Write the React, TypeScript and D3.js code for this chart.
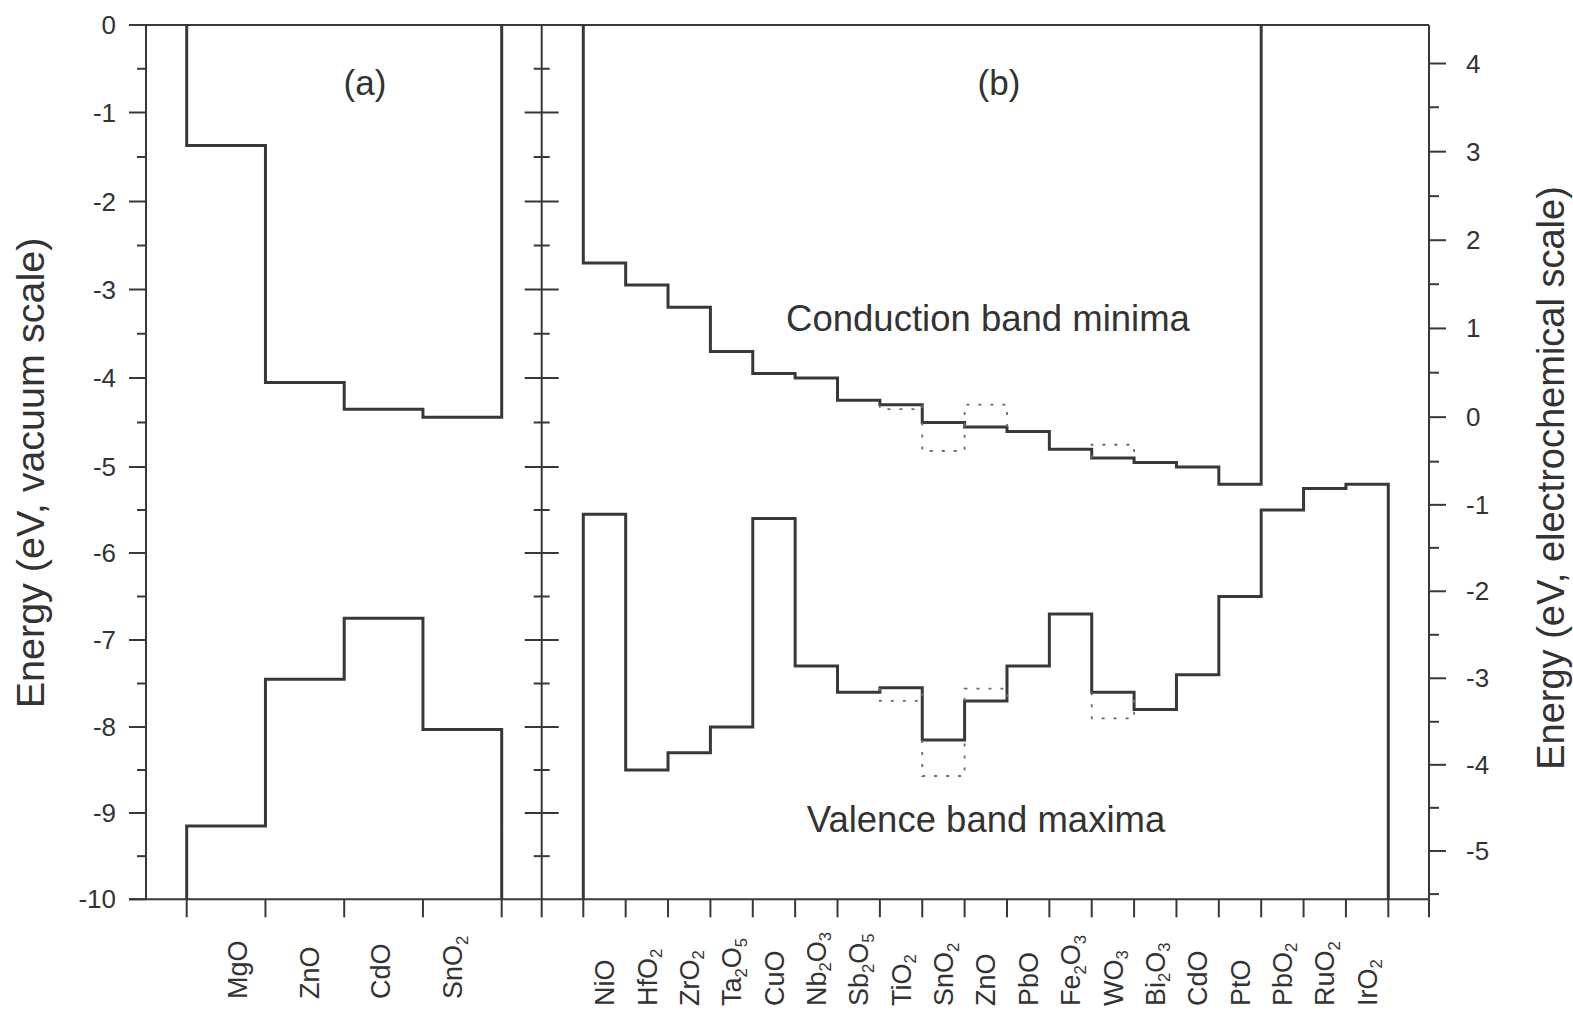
import React from 'react';
import * as d3 from 'd3';

// ---------- data (energies in eV on the vacuum scale) ----------
const panelACategories = ['MgO', 'ZnO', 'CdO', 'SnO2'];
const panelACB = [-1.37, -4.05, -4.35, -4.44];
const panelAVB = [-9.15, -7.45, -6.75, -8.03];

const panelBCategories = [
  'NiO', 'HfO2', 'ZrO2', 'Ta2O5', 'CuO', 'Nb2O3', 'Sb2O5', 'TiO2', 'SnO2', 'ZnO',
  'PbO', 'Fe2O3', 'WO3', 'Bi2O3', 'CdO', 'PtO', 'PbO2', 'RuO2', 'IrO2',
];
// conduction band minima exist only for the first 16 (semiconducting) oxides
const panelBCB = [-2.7, -2.95, -3.2, -3.7, -3.95, -4.0, -4.25, -4.3, -4.5, -4.55, -4.6, -4.8, -4.9, -4.95, -5.0, -5.2];
const panelBVB = [-5.55, -8.5, -8.3, -8.0, -5.6, -7.3, -7.6, -7.55, -8.15, -7.7, -7.3, -6.7, -7.6, -7.8, -7.4, -6.5, -5.5, -5.25, -5.2];
// alternative (dotted) values
const panelBAltCB: (number | null)[] = [null, null, null, null, null, null, null, -4.35, -4.82, -4.3, null, null, -4.75, null, null, null];
const panelBAltVB: (number | null)[] = [null, null, null, null, null, null, null, -7.7, -8.57, -7.56, null, null, -7.9, null, null, null, null, null, null];

const vacuumTicks = [0, -1, -2, -3, -4, -5, -6, -7, -8, -9, -10];
const vacuumMinorTicks = [-0.5, -1.5, -2.5, -3.5, -4.5, -5.5, -6.5, -7.5, -8.5, -9.5];
const echemTicks = [4, 3, 2, 1, 0, -1, -2, -3, -4, -5];
const echemMinorTicks = [3.5, 2.5, 1.5, 0.5, -0.5, -1.5, -2.5, -3.5, -4.5, -5.5];
const echemOffset = 4.44; // E_vac = E_echem - 4.44

// ---------- layout ----------
const W = 1573;
const H = 1013;
// pixel rows of the vacuum-scale ticks (the scanned original is slightly non-uniform)
const tickRows = [25, 112.5, 201.5, 289.5, 378, 467, 553, 640, 727, 813, 899.3];
const TOP = tickRows[0];
const BOTTOM = tickRows[tickRows.length - 1];
const LEFT = 146;
const DIVIDER = 541.7;
const RIGHT = 1429;
const STROKE = '#383838';
const TEXT = '#333';
const FONT = '"Liberation Sans", Arial, Helvetica, sans-serif';

const y = d3.scaleLinear().domain(vacuumTicks).range(tickRows);
const yEchem = d3
  .scaleLinear()
  .domain(vacuumTicks.map((v) => v + echemOffset))
  .range(tickRows);
const xA = d3.scaleLinear().domain([0, panelACategories.length]).range([186.7, 501.7]);
const xB = d3.scaleLinear().domain([0, panelBCategories.length]).range([583.3, 1388.3]);
// panel (a) labels sit slightly compressed toward the middle in the original
const xALabel = d3.scaleLinear().domain([0, panelACategories.length - 1]).range([237.5, 452.5]);

const stepLine = d3
  .line<[number, number]>()
  .x((d) => d[0])
  .y((d) => d[1])
  .curve(d3.curveStepAfter);
const plainLine = d3
  .line<[number, number]>()
  .x((d) => d[0])
  .y((d) => d[1]);

function bandPath(values: number[], xs: d3.ScaleLinear<number, number>, edge: number): string {
  const pts: [number, number][] = [];
  pts.push([xs(0), y(edge)]);
  values.forEach((v, i) => pts.push([xs(i), y(v)]));
  pts.push([xs(values.length), y(values[values.length - 1])]);
  pts.push([xs(values.length), y(edge)]);
  return stepLine(pts) || '';
}

function altPaths(alt: (number | null)[], solid: number[], xs: d3.ScaleLinear<number, number>): string[] {
  const out: string[] = [];
  alt.forEach((a, i) => {
    if (a === null) return;
    const s = solid[i];
    const pts: [number, number][] = [
      [xs(i), y(s)],
      [xs(i), y(a)],
      [xs(i + 1), y(a)],
      [xs(i + 1), y(s)],
    ];
    out.push(plainLine(pts) || '');
  });
  return out;
}

function Formula({ name, size }: { name: string; size: number }) {
  const parts = name.match(/[A-Za-z]+|\d+/g) || [];
  const subSize = size * 0.62;
  const shift = size * 0.2;
  let shifted = false;
  return (
    <>
      {parts.map((p, k) => {
        const isNum = /^\d+$/.test(p);
        let dy = 0;
        if (isNum && !shifted) {
          dy = shift;
          shifted = true;
        } else if (!isNum && shifted) {
          dy = -shift;
          shifted = false;
        }
        return (
          <tspan key={k} dy={dy} fontSize={isNum ? subSize : size}>
            {p}
          </tspan>
        );
      })}
    </>
  );
}

export default function App() {
  const labelSize = 27;
  const capHalf = labelSize * 0.716 * 0.5;
  const bottomTickXs = [
    ...d3.range(panelACategories.length + 1).map((i) => xA(i)),
    DIVIDER,
    ...d3.range(panelBCategories.length + 1).map((i) => xB(i)),
    RIGHT,
  ];
  return (
    <svg
      width={W}
      height={H}
      viewBox={`0 0 ${W} ${H}`}
      style={{ position: 'absolute', left: 0, top: 0, background: '#fff' }}
      fontFamily={FONT}
    >
      <rect x={0} y={0} width={W} height={H} fill="#fff" />
      {/* frame */}
      <g stroke={STROKE} strokeWidth={2} fill="none">
        <line x1={129} x2={RIGHT} y1={y(0)} y2={y(0)} />
        <line x1={129} x2={RIGHT} y1={y(-10)} y2={y(-10)} />
        <line x1={LEFT} x2={LEFT} y1={TOP} y2={BOTTOM} />
        <line x1={DIVIDER} x2={DIVIDER} y1={TOP} y2={BOTTOM} />
        <line x1={RIGHT} x2={RIGHT} y1={TOP} y2={BOTTOM} />
        {vacuumTicks.map((t) => (
          <line key={'lt' + t} x1={LEFT - 17} x2={LEFT} y1={y(t)} y2={y(t)} />
        ))}
        {vacuumMinorTicks.map((t) => (
          <line key={'lm' + t} x1={LEFT - 9} x2={LEFT} y1={y(t)} y2={y(t)} />
        ))}
        {vacuumTicks.slice(1, -1).map((t) => (
          <line key={'dt' + t} x1={DIVIDER - 17} x2={DIVIDER + 17} y1={y(t)} y2={y(t)} />
        ))}
        {vacuumMinorTicks.map((t) => (
          <line key={'dm' + t} x1={DIVIDER - 8} x2={DIVIDER + 8} y1={y(t)} y2={y(t)} />
        ))}
        {echemTicks.map((t) => (
          <line key={'rt' + t} x1={RIGHT} x2={RIGHT + 17} y1={yEchem(t)} y2={yEchem(t)} />
        ))}
        {echemMinorTicks.map((t) => (
          <line key={'rm' + t} x1={RIGHT} x2={RIGHT + 10} y1={yEchem(t)} y2={yEchem(t)} />
        ))}
        {bottomTickXs.map((x, i) => (
          <line key={'bt' + i} x1={x} x2={x} y1={BOTTOM} y2={BOTTOM + 18} />
        ))}
      </g>

      {/* tick labels */}
      <g fill={TEXT} fontSize={26}>
        {vacuumTicks.map((t) => (
          <text key={'ll' + t} x={116} y={y(t)} textAnchor="end" dominantBaseline="central">
            {t}
          </text>
        ))}
        {echemTicks.map((t) => (
          <text key={'rl' + t} x={1466} y={yEchem(t)} textAnchor="start" dominantBaseline="central">
            {t}
          </text>
        ))}
      </g>

      {/* band edges */}
      <g stroke={STROKE} strokeWidth={3} fill="none" strokeLinejoin="miter">
        <path d={bandPath(panelACB, xA, 0)} />
        <path d={bandPath(panelAVB, xA, -10)} />
        <path d={bandPath(panelBCB, xB, 0)} />
        <path d={bandPath(panelBVB, xB, -10)} />
      </g>
      <g stroke="#6a6a6a" strokeWidth={1.8} fill="none" strokeDasharray="3 9">
        {altPaths(panelBAltCB, panelBCB, xB).map((d, i) => (
          <path key={'ac' + i} d={d} />
        ))}
        {altPaths(panelBAltVB, panelBVB, xB).map((d, i) => (
          <path key={'av' + i} d={d} />
        ))}
      </g>

      {/* category labels */}
      <g fill={TEXT} fontSize={labelSize}>
        {panelACategories.map((c, i) => {
          const cx = xALabel(i) + capHalf;
          return (
            <text key={'ca' + c} transform={`translate(${cx},999) rotate(-90)`} textAnchor="start">
              <Formula name={c} size={labelSize} />
            </text>
          );
        })}
        {panelBCategories.map((c, i) => {
          const cx = (xB(i) + xB(i + 1)) / 2 + capHalf;
          return (
            <text key={'cb' + c + i} transform={`translate(${cx},1006) rotate(-90)`} textAnchor="start">
              <Formula name={c} size={labelSize} />
            </text>
          );
        })}
      </g>

      {/* annotations */}
      <g fill={TEXT}>
        <text x={365} y={95} fontSize={35} textAnchor="middle">(a)</text>
        <text x={999} y={95} fontSize={35} textAnchor="middle">(b)</text>
        <text x={988} y={331} fontSize={36.5} textAnchor="middle">Conduction band minima</text>
        <text x={986} y={832} fontSize={36.5} textAnchor="middle">Valence band maxima</text>
        <text transform="translate(44,473) rotate(-90)" fontSize={39.5} textAnchor="middle">
          Energy (eV, vacuum scale)
        </text>
        <text transform="translate(1564,478) rotate(-90)" fontSize={38} textAnchor="middle">
          Energy (eV, electrochemical scale)
        </text>
      </g>
    </svg>
  );
}
